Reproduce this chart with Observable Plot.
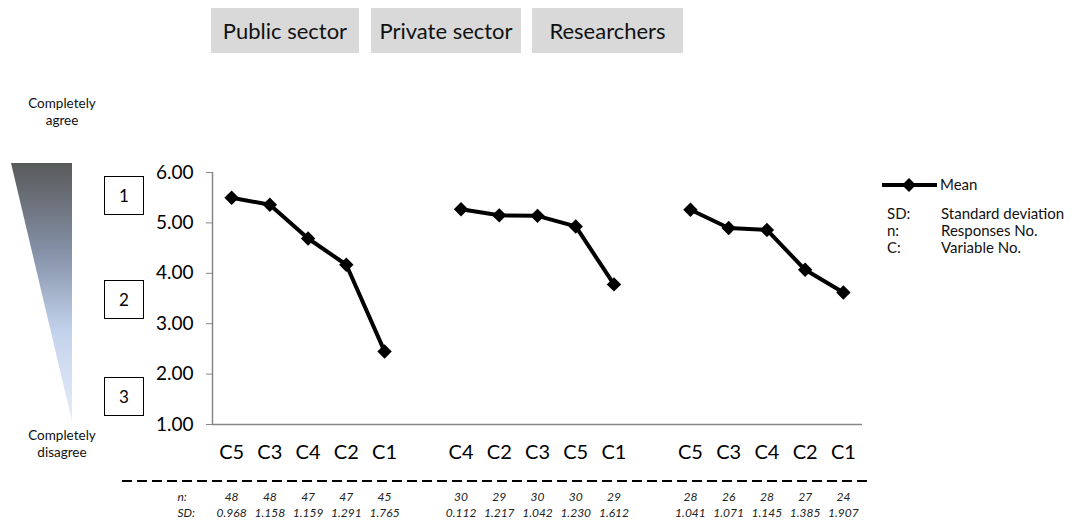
<!DOCTYPE html>
<html>
<head>
<meta charset="utf-8">
<script src="https://cdn.jsdelivr.net/npm/d3@7"></script>
<script src="https://cdn.jsdelivr.net/npm/@observablehq/plot@0.6"></script>
<style>
  html, body { margin: 0; padding: 0; background: #fff; }
  #root { position: relative; width: 1086px; height: 529px; overflow: hidden; font-family: Lato, "Open Sans", sans-serif; color: #000; }
  #chart { position: absolute; left: 0; top: 0; }
  .hdr { position: absolute; top: 8px; height: 45px; background: #d9d9d9; display: flex; align-items: center; justify-content: center; font-size: 22px; color: #111; }
  .numbox { position: absolute; left: 104px; width: 38px; height: 37px; border: 1.5px solid #000; display: flex; align-items: center; justify-content: center; font-size: 17px; }
  .scale-lbl { position: absolute; width: 124px; left: 0px; text-align: center; font-size: 13.5px; line-height: 17px; color: #111; }
  .leg { position: absolute; font-size: 15px; line-height: 17px; color: #111; white-space: nowrap; }
  .deco { position: absolute; left: 0; top: 0; }
</style>
</head>
<body>
<div id="root">
  <svg class="deco" width="1086" height="529">
    <defs>
      <linearGradient id="tri" x1="0" y1="0" x2="0" y2="1">
        <stop offset="0" stop-color="#595959"/>
        <stop offset="0.35" stop-color="#8592a8"/>
        <stop offset="0.65" stop-color="#c3d2ec"/>
        <stop offset="1" stop-color="#e6ecf7"/>
      </linearGradient>
    </defs>
    <polygon points="11,163 72,163 72,421" fill="url(#tri)"/>
    <line x1="122" x2="870" y1="481" y2="481" stroke="#000" stroke-width="2" stroke-dasharray="10 5"/>
    <line x1="882" x2="937" y1="185" y2="185" stroke="#000" stroke-width="4"/>
    <path d="M909,178 L916,185 L909,192 L902,185 Z" fill="#000"/>
  </svg>
  <div id="chart"></div>
</div>
<script>
// ---- data ----
const groups = ["Public sector", "Private sector", "Researchers"];

const publicVars = ["C5", "C3", "C4", "C2", "C1"];
const publicMean = [5.50, 5.36, 4.69, 4.17, 2.45];
const publicN = [48, 48, 47, 47, 45];
const publicSD = ["0.968", "1.158", "1.159", "1.291", "1.765"];

const privateVars = ["C4", "C2", "C3", "C5", "C1"];
const privateMean = [5.27, 5.15, 5.14, 4.93, 3.78];
const privateN = [30, 29, 30, 30, 29];
const privateSD = ["0.112", "1.217", "1.042", "1.230", "1.612"];

const researchVars = ["C5", "C3", "C4", "C2", "C1"];
const researchMean = [5.26, 4.90, 4.86, 4.07, 3.62];
const researchN = [28, 26, 28, 27, 24];
const researchSD = ["1.041", "1.071", "1.145", "1.385", "1.907"];

const yTicks = [1, 2, 3, 4, 5, 6];
const zoneLabels = ["1", "2", "3"];
const legendMean = "Mean";
const legendKeys = ["SD:", "n:", "C:"];
const legendDefs = ["Standard deviation", "Responses No.", "Variable No."];
const rowLabels = ["n:", "SD:"];

// ---- table ----
const sets = [
  [publicVars, publicMean, publicN, publicSD],
  [privateVars, privateMean, privateN, privateSD],
  [researchVars, researchMean, researchN, researchSD]
];
const rows = [];
sets.forEach(([vars, mean, n, sd], g) => {
  vars.forEach((v, i) => rows.push({group: groups[g], slot: g * 6 + i, variable: v, mean: mean[i], n: n[i], sd: sd[i]}));
});
const labelOf = new Map(rows.map(d => [d.slot, d.variable]));

const font = "Lato, 'Open Sans', sans-serif";
const statStyle = {fontSize: 12, fontStyle: "italic", fill: "#222"};

const plot = Plot.plot({
  width: 1086,
  height: 529,
  marginLeft: 212,
  marginRight: 224,
  marginTop: 172,
  marginBottom: 105,
  style: {fontFamily: font, background: "transparent", overflow: "visible", color: "#000"},
  x: {domain: [-0.5, 16.5], axis: null},
  y: {domain: [1, 6], axis: null},
  marks: [
    Plot.ruleY([1], {stroke: "#868686", strokeWidth: 1.5}),
    Plot.ruleX([-0.5], {stroke: "#868686", strokeWidth: 1.5}),
    Plot.axisY({ticks: yTicks, tickFormat: d3.format(".2f"), tickSize: 6, tickPadding: 13, stroke: "#868686", fill: "#000", fontSize: 19, label: null}),
    Plot.axisX({ticks: rows.map(d => d.slot), tickFormat: s => labelOf.get(s), tickSize: 0, tickPadding: 20, fill: "#000", fontSize: 20, label: null}),
    Plot.line(rows, {x: "slot", y: "mean", z: "group", stroke: "#000", strokeWidth: 4}),
    Plot.dot(rows, {x: "slot", y: "mean", symbol: "diamond2", r: 6.5, fill: "#000"}),
    Plot.text(rows, {x: "slot", text: d => String(d.n), frameAnchor: "bottom", dy: 76, ...statStyle}),
    Plot.text(rows, {x: "slot", text: "sd", frameAnchor: "bottom", dy: 92, ...statStyle}),
    Plot.text([rowLabels[0]], {text: d => d, frameAnchor: "bottom-left", dx: -35, dy: 76, textAnchor: "start", ...statStyle}),
    Plot.text([rowLabels[1]], {text: d => d, frameAnchor: "bottom-left", dx: -35, dy: 92, textAnchor: "start", ...statStyle})
  ]
});
document.getElementById("chart").appendChild(plot);

// ---- HTML decorations ----
const root = document.getElementById("root");
const hdrLeft = [211, 371, 532];
const hdrWidth = [148, 150, 151];
groups.forEach((g, i) => {
  const d = document.createElement("div");
  d.className = "hdr";
  d.style.left = hdrLeft[i] + "px";
  d.style.width = hdrWidth[i] + "px";
  d.textContent = g;
  root.appendChild(d);
});
const boxTop = [176, 280, 377];
zoneLabels.forEach((z, i) => {
  const d = document.createElement("div");
  d.className = "numbox";
  d.style.top = boxTop[i] + "px";
  d.textContent = z;
  root.appendChild(d);
});
const agree = document.createElement("div");
agree.className = "scale-lbl";
agree.style.top = "95px";
agree.innerHTML = "Completely<br>agree";
root.appendChild(agree);
const disagree = document.createElement("div");
disagree.className = "scale-lbl";
disagree.style.top = "427px";
disagree.innerHTML = "Completely<br>disagree";
root.appendChild(disagree);

const meanLbl = document.createElement("div");
meanLbl.className = "leg";
meanLbl.style.left = "940px";
meanLbl.style.top = "176px";
meanLbl.textContent = legendMean;
root.appendChild(meanLbl);
const legTop = [204.5, 221.5, 238.5];
legendKeys.forEach((k, i) => {
  const a = document.createElement("div");
  a.className = "leg";
  a.style.left = "887px";
  a.style.top = legTop[i] + "px";
  a.textContent = k;
  root.appendChild(a);
  const b = document.createElement("div");
  b.className = "leg";
  b.style.left = "941px";
  b.style.top = legTop[i] + "px";
  b.textContent = legendDefs[i];
  root.appendChild(b);
});
</script>
</body>
</html>
